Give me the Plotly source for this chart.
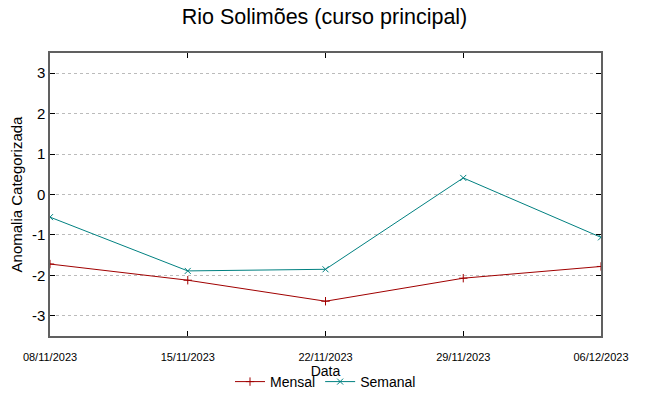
import plotly.graph_objects as go

dates = ["2023-11-08", "2023-11-15", "2023-11-22", "2023-11-29", "2023-12-06"]
tick_labels = ["08/11/2023", "15/11/2023", "22/11/2023", "29/11/2023", "06/12/2023"]
mensal = [-1.72, -2.12, -2.64, -2.07, -1.78]
semanal = [-0.56, -1.89, -1.85, 0.41, -1.06]
y_ticks = [-3, -2, -1, 0, 1, 2, 3]
y_tick_labels = ["-3", "-2", "-1", "0", "1", "2", "3"]

fig = go.Figure()
fig.add_trace(go.Scatter(x=dates, y=mensal, name="Mensal", mode="lines+markers",
                         line=dict(color="#a00000", width=1),
                         marker=dict(symbol="cross-thin", size=6, line=dict(color="#a00000", width=1))))
fig.add_trace(go.Scatter(x=dates, y=semanal, name="Semanal", mode="lines+markers",
                         line=dict(color="#008080", width=1),
                         marker=dict(symbol="x-thin", size=6, line=dict(color="#008080", width=1))))

fig.update_layout(
    width=649, height=396,
    margin=dict(l=50, r=48, t=53, b=60, autoexpand=False),
    paper_bgcolor="white", plot_bgcolor="white",
    font=dict(family="Liberation Sans, Arial, sans-serif", color="black"),
    title=dict(text="Rio Solimões (curso principal)", x=0.5, xanchor="center",
               y=0.978, yanchor="top", font=dict(size=21.5, color="black")),
    showlegend=True,
    legend=dict(orientation="h", x=0.5, xanchor="center", y=-0.106, yanchor="top",
                font=dict(size=14), bgcolor="rgba(0,0,0,0)", itemwidth=30,
                tracegroupgap=0),
)
fig.update_xaxes(
    type="date", range=[dates[0], dates[-1]],
    tickvals=dates, ticktext=tick_labels,
    ticks="inside", ticklen=5, tickcolor="black", tickwidth=1,
    tickfont=dict(size=11), ticklabelstandoff=10,
    showgrid=False, zeroline=False, automargin=False,
    showline=True, linecolor="#606060", linewidth=1.5, mirror="ticks",
    title=dict(text="Data", font=dict(size=14), standoff=0),
)
fig.update_yaxes(
    range=[-3.5, 3.5], tickvals=y_ticks, ticktext=y_tick_labels,
    ticks="inside", ticklen=5, tickcolor="black", tickwidth=1,
    tickfont=dict(size=15), automargin=False,
    showgrid=True, gridcolor="#bbbbbb", griddash="dot", gridwidth=1,
    zeroline=False,
    showline=True, linecolor="#606060", linewidth=1.5, mirror="ticks",
    title=dict(text="Anomalia Categorizada", font=dict(size=15), standoff=6),
)

fig.write_html("out.html", config={"displayModeBar": False},
               post_script="document.body.style.margin='0';document.body.style.overflow='hidden';")
